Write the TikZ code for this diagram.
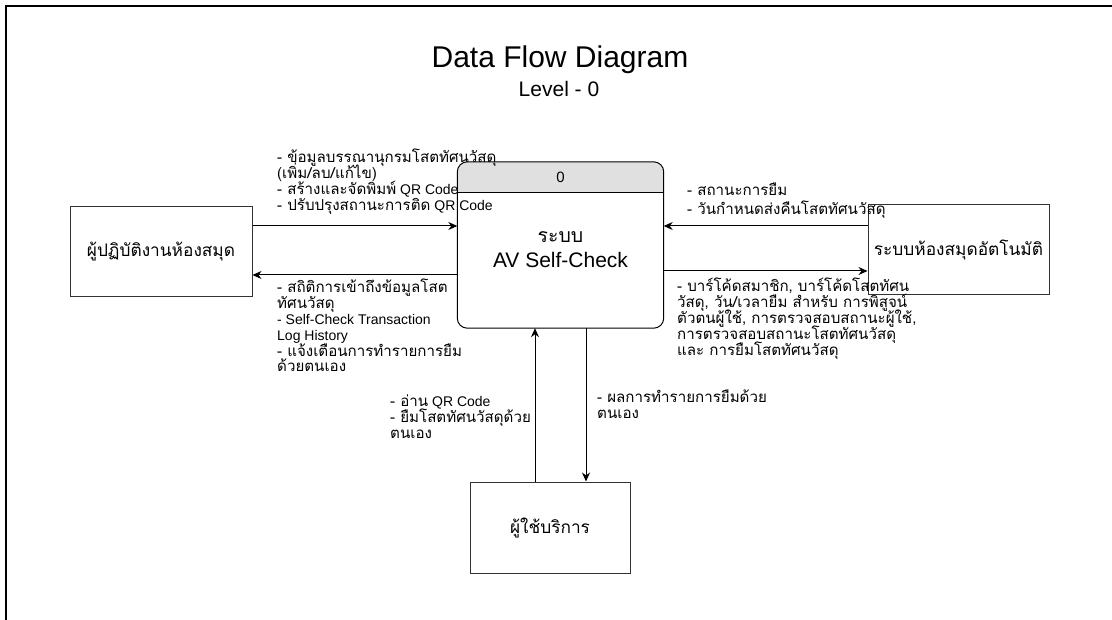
\documentclass[tikz,border=0pt]{standalone}
\usepackage{fontspec}
\setmainfont{Liberation Sans}
\newfontfamily\thaifont[Script=Thai,Scale=1.08]{Loma}
\usetikzlibrary{arrows.meta}
\newcommand\thx[1]{{\thaifont #1}}
\newcommand\lblfont{\fontsize{14}{15.8}\selectfont\setlength{\lineskiplimit}{-20pt}\setlength{\lineskip}{0pt}}
\definecolor{hdr}{RGB}{224,224,224}
\definecolor{edge}{RGB}{51,51,51}
\tikzset{
  ent/.style={draw=edge, line width=1pt, inner sep=0pt, font=\fontsize{16}{19}\selectfont},
  flow/.style={draw=black, line width=1pt, -{Stealth[length=9pt,width=8pt]}},
  lbl/.style={anchor=north west, inner sep=0pt, align=left, font=\lblfont},
}
\begin{document}
\begin{tikzpicture}[x=1pt,y=-1pt]
\useasboundingbox (0,0) rectangle (1112,620);
\draw[line width=1.5pt] (1112,6) -- (6,6) -- (6,620);
\node[font=\fontsize{30}{34}\selectfont] (title) at (560,60) {Data Flow Diagram};
\node[font=\fontsize{21}{24}\selectfont] (lvl) at (559,89) {Level - 0};

% process
\node[minimum width=206pt, minimum height=166pt, inner sep=0pt] (p) at (560.5,245) {};
\begin{scope}
  \clip[rounded corners=10pt] (p.north west) rectangle (p.south east);
  \fill[hdr] (p.north west) rectangle ([yshift=-31pt]p.north east);
\end{scope}
\draw[line width=1pt, rounded corners=10pt] (p.north west) rectangle (p.south east);
\draw[line width=1pt] ([yshift=-31pt]p.north west) -- ([yshift=-31pt]p.north east);
\node[font=\fontsize{15}{18}\selectfont] (pnum) at ([yshift=-16pt]p.north) {0};
\node[font=\fontsize{18}{20}\selectfont, inner sep=0pt] (pth) at (560.5,237) {\thx{ระบบ}};
\node[font=\fontsize{21}{23}\selectfont, inner sep=0pt] (ptxt) at (560.5,260) {AV Self-Check};

% entities
\node[ent, minimum width=182pt, minimum height=90pt] (lb) at (161,252) {\thx{ผู้ปฏิบัติงานห้องสมุด}};
\node[ent, minimum width=181pt, minimum height=90pt] (rb) at (958.5,250) {\thx{ระบบห้องสมุดอัตโนมัติ}};
\node[ent, minimum width=160pt, minimum height=91pt] (ub) at (550,527.5) {\thx{ผู้ใช้บริการ}};

% flows
\coordinate (a1) at ([yshift=26pt]lb.east);
\coordinate (a2) at ([yshift=-23pt]lb.east);
\coordinate (a3) at ([yshift=24pt]rb.west);
\coordinate (a4) at ([yshift=-21pt]rb.west);
\coordinate (a5) at ([xshift=-15pt]ub.north);
\coordinate (a6) at ([xshift=36pt]ub.north);
\draw[flow] (a1) -- (a1 -| p.west);
\draw[flow] (a2 -| p.west) -- (a2);
\draw[flow] (a3) -- (a3 -| p.east);
\draw[flow] (a4 -| p.east) -- (a4);
\draw[flow] (a5) -- (a5 |- p.south);
\draw[flow] (a6 |- p.south) -- (a6);

% labels
\node[lbl] (l1) at (277,149) {\thx{- ข้อมูลบรรณานุกรมโสตทัศนวัสดุ}\\\thx{(เพิ่ม/ลบ/แก้ไข)}\\\thx{- สร้างและจัดพิมพ์} QR Code\\\thx{- ปรับปรุงสถานะการติด} QR Code};
\node[lbl] (l2) at (277,279) {\thx{- สถิติการเข้าถึงข้อมูลโสต}\\\thx{ทัศนวัสดุ}\\- Self-Check Transaction\\Log History\\\thx{- แจ้งเตือนการทำรายการยืม}\\\thx{ด้วยตนเอง}};
\node[lbl] (l3) at (687,183) {\thx{- สถานะการยืม}\\[3pt]\thx{- วันกำหนดส่งคืนโสตทัศนวัสดุ}};
\node[lbl] (l4) at (677,278) {\thx{- บาร์โค้ดสมาชิก, บาร์โค้ดโสตทัศน}\\\thx{วัสดุ, วัน/เวลายืม สำหรับ การพิสูจน์}\\\thx{ตัวตนผู้ใช้, การตรวจสอบสถานะผู้ใช้,}\\\thx{การตรวจสอบสถานะโสตทัศนวัสดุ}\\\thx{และ การยืมโสตทัศนวัสดุ}};
\node[lbl] (l5) at (390,395) {\thx{- อ่าน} QR Code\\\thx{- ยืมโสตทัศนวัสดุด้วย}\\\thx{ตนเอง}};
\node[lbl] (l6) at (597,390) {\thx{- ผลการทำรายการยืมด้วย}\\\thx{ตนเอง}};
\end{tikzpicture}
\end{document}
